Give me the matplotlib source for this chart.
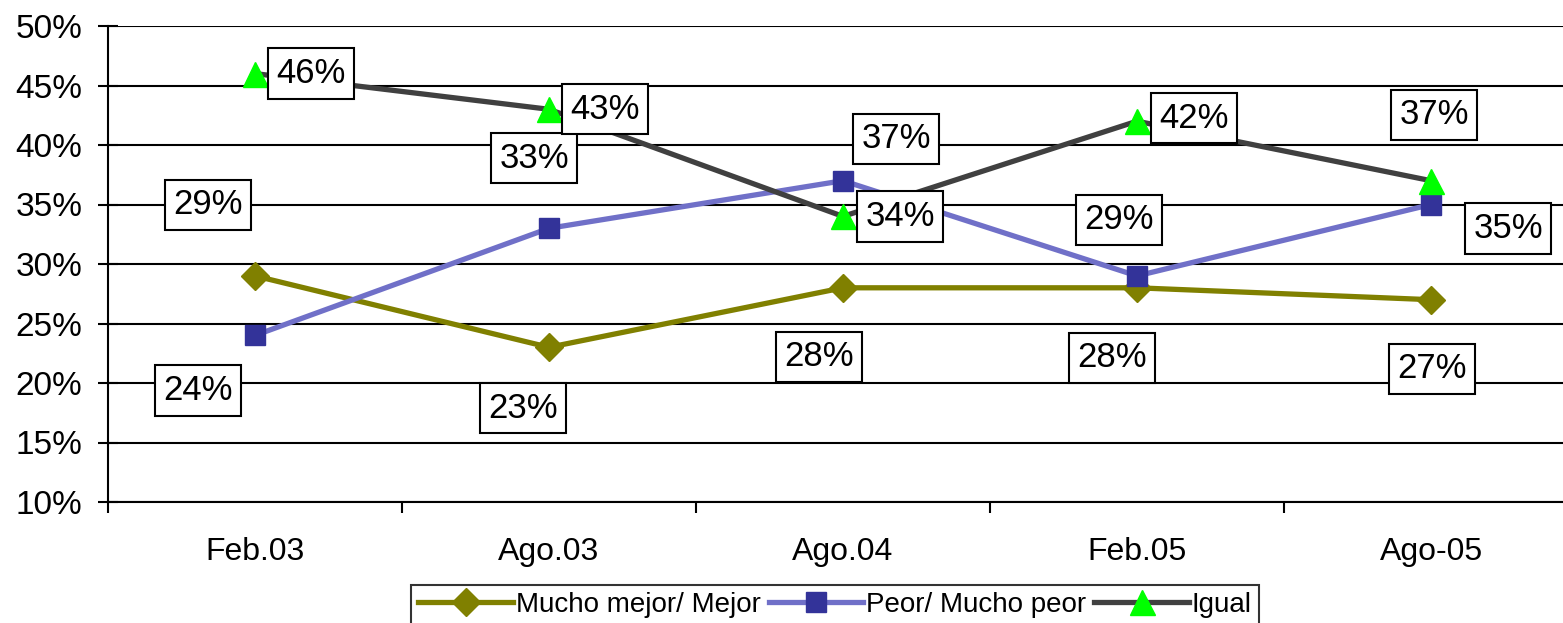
import matplotlib
matplotlib.use("Agg")
import matplotlib.pyplot as plt
import numpy as np

plt.rcParams['font.family'] = ['Liberation Sans', 'DejaVu Sans']

periods = ["Feb.03", "Ago.03", "Ago.04", "Feb.05", "Ago-05"]
mejor = [29, 23, 28, 28, 27]
peor = [24, 33, 37, 29, 35]
igual = [46, 43, 34, 42, 37]

# where each value box sits, offset from its point (pixels, +y = up)
mejor_off = [(-47, 71), (-26, -61), (-24, -69), (-25, -70), (1, -69)]
peor_off = [(-57, -55), (-15, 70), (53, 42), (-18, 56), (77, -24)]
igual_off = [(56, 0), (56, 0), (57, 0), (57, 3), (3, 66)]

W, H = 1563, 623
fig = plt.figure(figsize=(W / 100, H / 100), dpi=100)
ax = fig.add_axes([108 / W, 1 - 502 / H, (1578 - 108) / W, (502 - 26) / H])

x = np.arange(len(periods))
ax.plot(x, mejor, color="#808000", lw=3.8, marker="D", ms=14,
        mfc="#808000", mec="#808000", label="Mucho mejor/ Mejor", zorder=3)
ax.plot(x, peor, color="#7070C8", lw=3.8, marker="s", ms=15,
        mfc="#333399", mec="#333399", label="Peor/ Mucho peor", zorder=4)
ax.plot(x, igual, color="#404040", lw=3.8, marker="^", ms=18,
        mfc="#00FF00", mec="#00FF00", label="Igual", zorder=5)

box = dict(boxstyle="square,pad=0.25", fc="white", ec="black", lw=1.5)
for vals, offs in [(mejor, mejor_off), (peor, peor_off), (igual, igual_off)]:
    for i, (v, o) in enumerate(zip(vals, offs)):
        ax.annotate(f"{v}%", (i, v), xytext=o, textcoords="offset pixels",
                    ha="center", va="center", fontsize=25, bbox=box, zorder=10)

ax.set_xlim(-0.5, 4.5)
ax.set_ylim(10, 50)
ax.set_yticks(np.arange(10, 51, 5))
ax.set_yticklabels([f"{t}%" for t in range(10, 51, 5)], fontsize=24)
ax.set_xticks(x)
ax.set_xticklabels(periods, fontsize=23)
ax.set_xticks(np.arange(-0.5, 5, 1), minor=True)
ax.tick_params(axis="x", which="major", length=0, pad=25)
ax.tick_params(axis="x", which="minor", direction="out", length=8, width=1.5)
ax.tick_params(axis="y", direction="inout", length=15, width=1.5, pad=11)
ax.grid(axis="y", color="black", lw=1.5)
ax.set_axisbelow(True)
for s in ["top", "right"]:
    ax.spines[s].set_visible(False)
ax.spines["left"].set_linewidth(1.5)
ax.spines["bottom"].set_linewidth(1.5)

leg = fig.legend(loc="upper center", bbox_to_anchor=(835 / W, 1 - 585 / H),
                 ncol=3, fontsize=20, frameon=True, fancybox=False,
                 edgecolor="black", handlelength=3.4, handletextpad=0.1,
                 columnspacing=0.3, borderpad=0.25, borderaxespad=0)
leg.get_frame().set_linewidth(1.5)

fig.savefig("out.png", dpi=100)
